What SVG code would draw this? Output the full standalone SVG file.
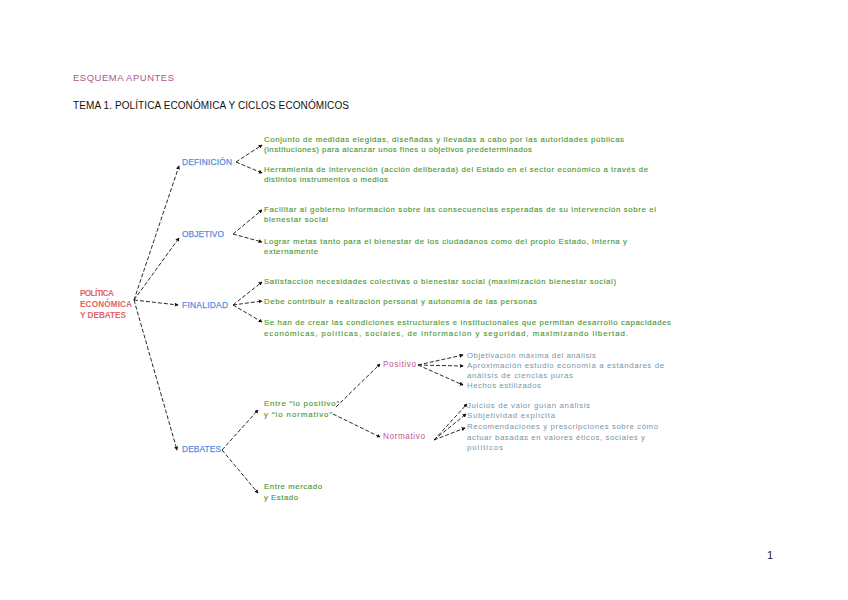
<svg xmlns="http://www.w3.org/2000/svg" width="848" height="600" viewBox="0 0 848 600">
<defs>
<marker id="ah" viewBox="0 0 6 6" refX="5" refY="3" markerWidth="4" markerHeight="4" orient="auto" markerUnits="userSpaceOnUse">
<path d="M0,0 L6,3 L0,6 Z" fill="#111"/>
</marker>
<style>
text{font-family:"Liberation Sans",Arial,sans-serif;}
.head{font-size:9.5px;fill:#b0568e;}
.title{font-size:10px;fill:#111;}
.root{font-size:8.2px;font-weight:bold;fill:#e06666;}
.lab{font-size:8.4px;fill:#5b8fe0;stroke:#5b8fe0;stroke-width:0.25;}
.g{font-size:7.8px;fill:#4f9a36;stroke:#4f9a36;stroke-width:0.15;}
.p{font-size:8.2px;fill:#c2578f;}
.s{font-size:7.8px;fill:#7796a6;}
.c{fill:none;stroke:#111;stroke-width:0.9;stroke-dasharray:4,2;marker-end:url(#ah);}
</style>
</defs>
<rect width="848" height="600" fill="#fff"/>
<text class="head" x="73" y="81" textLength="101">ESQUEMA APUNTES</text>
<text class="title" x="73" y="109" textLength="276">TEMA 1. POLÍTICA ECONÓMICA Y CICLOS ECONÓMICOS</text>

<g id="connectors">
<path class="c" d="M134,300 L179,166"/>
<path class="c" d="M134,300 L179,238"/>
<path class="c" d="M134,300 L178,305"/>
<path class="c" d="M134,300 L177,450"/>
<path class="c" d="M236,162 L262,145"/>
<path class="c" d="M236,162 L262,173"/>
<path class="c" d="M233,234 L262,210"/>
<path class="c" d="M233,234 L262,242"/>
<path class="c" d="M233,305 L262,282"/>
<path class="c" d="M233,305 L262,301"/>
<path class="c" d="M233,305 L262,322"/>
<path class="c" d="M222,450 L258,410"/>
<path class="c" d="M222,450 L258,493"/>
<path class="c" d="M336,407 L380,364"/>
<path class="c" d="M333,414 L380,437"/>
<path class="c" d="M418,365 L463,355"/>
<path class="c" d="M418,365 L463,366"/>
<path class="c" d="M418,365 L463,385"/>
<path class="c" d="M434,440 L467,404"/>
<path class="c" d="M434,440 L466,414"/>
<path class="c" d="M434,440 L465,428"/>
</g>

<g id="root"><text class="root" x="80" y="296" textLength="34">POLÍTICA</text><text class="root" x="80" y="307" textLength="52">ECONÓMICA</text><text class="root" x="80" y="318" textLength="46">Y DEBATES</text></g>

<g id="definicion"><text class="lab" x="182" y="165" textLength="50">DEFINICIÓN</text></g>
<g id="objetivo"><text class="lab" x="182" y="237" textLength="42">OBJETIVO</text></g>
<g id="finalidad"><text class="lab" x="182" y="308" textLength="46">FINALIDAD</text></g>
<g id="debates"><text class="lab" x="182" y="452" textLength="39">DEBATES</text></g>

<g id="def1"><text class="g" x="264" y="142" textLength="360">Conjunto de medidas elegidas, diseñadas y llevadas a cabo por las autoridades públicas</text><text class="g" x="264" y="152" textLength="268">(instituciones) para alcanzar unos fines u objetivos predeterminados</text></g>
<g id="def2"><text class="g" x="264" y="172" textLength="384">Herramienta de intervención (acción deliberada) del Estado en el sector económico a través de</text><text class="g" x="264" y="182" textLength="124">distintos instrumentos o medios</text></g>

<g id="obj1"><text class="g" x="264" y="212" textLength="392">Facilitar al gobierno información sobre las consecuencias esperadas de su intervención sobre el</text><text class="g" x="264" y="222" textLength="64">bienestar social</text></g>
<g id="obj2"><text class="g" x="264" y="244" textLength="363">Lograr metas tanto para el bienestar de los ciudadanos como del propio Estado, interna y</text><text class="g" x="264" y="254" textLength="54">externamente</text></g>

<g id="fin1"><text class="g" x="264" y="284" textLength="352">Satisfacción necesidades colectivas o bienestar social (maximización bienestar social)</text></g>
<g id="fin2"><text class="g" x="264" y="304" textLength="273">Debe contribuir a realización personal y autonomía de las personas</text></g>
<g id="fin3"><text class="g" x="264" y="325" textLength="407">Se han de crear las condiciones estructurales e institucionales que permitan desarrollo capacidades</text><text class="g" x="264" y="336" textLength="364">económicas, políticas, sociales, de información y seguridad, maximizando libertad.</text></g>

<g id="entre1"><text class="g" x="264" y="406" textLength="75">Entre “lo positivo”</text><text class="g" x="264" y="417" textLength="68">y “lo normativo”</text></g>
<g id="entre2"><text class="g" x="264" y="489" textLength="58">Entre mercado</text><text class="g" x="264" y="500" textLength="34">y Estado</text></g>

<g id="positivo"><text class="p" x="383" y="367" textLength="33">Positivo</text></g>
<g id="normativo"><text class="p" x="383" y="439" textLength="42">Normativo</text></g>

<g id="pos1"><text class="s" x="467" y="358" textLength="129">Objetivación máxima del análisis</text></g>
<g id="pos2"><text class="s" x="467" y="368" textLength="197">Aproximación estudio economía a estándares de</text><text class="s" x="467" y="378" textLength="106">análisis de ciencias puras</text></g>
<g id="pos3"><text class="s" x="467" y="388" textLength="74">Hechos estilizados</text></g>

<g id="nor1"><text class="s" x="467" y="408" textLength="123">Juicios de valor guían análisis</text></g>
<g id="nor2"><text class="s" x="467" y="418" textLength="88">Subjetividad explícita</text></g>
<g id="nor3"><text class="s" x="467" y="429" textLength="191">Recomendaciones y prescripciones sobre cómo</text><text class="s" x="467" y="440" textLength="178">actuar basadas en valores éticos, sociales y</text><text class="s" x="467" y="450" textLength="36">políticos</text></g>

<text x="767" y="559" style="font-size:11px;fill:#222;">1</text>
</svg>
